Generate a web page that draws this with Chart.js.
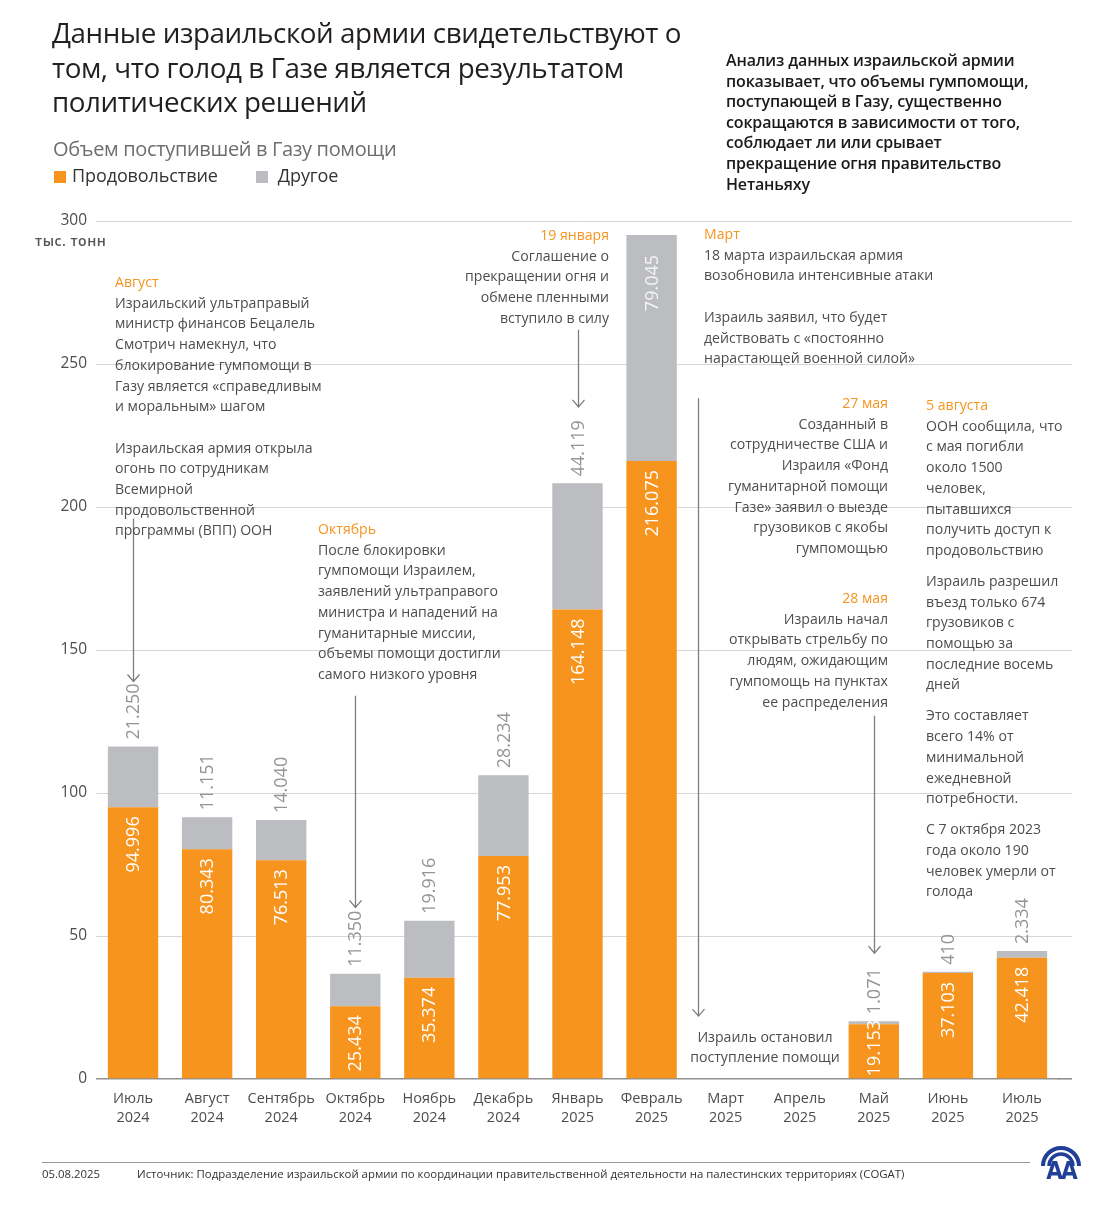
<!DOCTYPE html>
<html lang="ru">
<head>
<meta charset="utf-8">
<title>Объем поступившей в Газу помощи</title>
<script src="https://cdn.jsdelivr.net/npm/chart.js@4.4.1/dist/chart.umd.min.js"></script>
<style>
  html, body { margin: 0; padding: 0; background: #fff; }
  body { width: 1120px; height: 1210px; position: relative; overflow: hidden;
         font-family: "Open Sans", "Noto Sans", sans-serif; color: #4d4d4d; }
  #chartBox { position: absolute; left: 0; top: 0; width: 1120px; height: 1210px; }
  .abs { position: absolute; white-space: pre; }
  .title { left: 52px; top: 15px; font-size: 27.8px; line-height: 34.5px; color: #231f20; letter-spacing: -0.45px; }
  .sub { left: 53px; top: 135px; font-size: 20px; line-height: 28px; color: #6d6e71; letter-spacing: -0.35px; }
  .legend { left: 54px; top: 162px; font-size: 18px; line-height: 26px; color: #333; letter-spacing: -0.1px; }
  .legend span.sq { display: inline-block; width: 12px; height: 12px; margin-right: 6px; vertical-align: -0.5px; }
  .intro { left: 726px; top: 50px; font-size: 16px; line-height: 20.6px; font-weight: 600; color: #1a1a1a; letter-spacing: -0.15px; }
  .unit { left: 35px; top: 231px; font-size: 14px; font-weight: 600; color: #555; letter-spacing: 0.5px; }
  .note { font-size: 14.1px; line-height: 20.7px; color: #4d4d4d; }
  .note .h { color: #f7941d; }
  .note p { margin: 0; }
  .note p + p { margin-top: 10.3px; }
  .r { text-align: right; }
  .c { text-align: center; }
  .foot { top: 1166px; font-size: 11.4px; line-height: 16px; color: #333; }
  #rule { position: absolute; left: 42px; top: 1162px; width: 988px; height: 1px; background: #9a9a9a; }
  #logo { position: absolute; left: 1038px; top: 1136px; }
</style>
</head>
<body>
<div id="chartBox"><canvas id="aidChart"></canvas></div>

<div class="abs title">Данные израильской армии свидетельствуют о
том, что голод в Газе является результатом
политических решений</div>
<div class="abs sub">Объем поступившей в Газу помощи</div>
<div class="abs legend"><span class="sq" style="background:#f7941d"></span>Продовольствие<span style="display:inline-block;width:38px"></span><span class="sq" style="background:#bcbdc0;margin-right:10px"></span>Другое</div>
<div class="abs intro">Анализ данных израильской армии
показывает, что объемы гумпомощи,
поступающей в Газу, существенно
сокращаются в зависимости от того,
соблюдает ли или срывает
прекращение огня правительство
Нетаньяху</div>
<div class="abs unit">тыс. тонн</div>

<div class="abs note" style="left:115px;top:272px"><span class="h">Август</span>
Израильский ультраправый
министр финансов Бецалель
Смотрич намекнул, что
блокирование гумпомощи в
Газу является «справедливым
и моральным» шагом

Израильская армия открыла
огонь по сотрудникам
Всемирной
продовольственной
программы (ВПП) ООН</div>

<div class="abs note" style="left:318px;top:519px"><span class="h">Октябрь</span>
После блокировки
гумпомощи Израилем,
заявлений ультраправого
министра и нападений на
гуманитарные миссии,
объемы помощи достигли
самого низкого уровня</div>

<div class="abs note r" style="right:511px;top:225px"><span class="h">19 января</span>
Соглашение о
прекращении огня и
обмене пленными
вступило в силу</div>

<div class="abs note" style="left:704px;top:224px"><span class="h">Март</span>
18 марта израильская армия
возобновила интенсивные атаки

Израиль заявил, что будет
действовать с «постоянно
нарастающей военной силой»</div>

<div class="abs note r" style="right:232px;top:393px"><span class="h">27 мая</span>
Созданный в
сотрудничестве США и
Израиля «Фонд
гуманитарной помощи
Газе» заявил о выезде
грузовиков с якобы
гумпомощью</div>

<div class="abs note r" style="right:232px;top:588px"><span class="h">28 мая</span>
Израиль начал
открывать стрельбу по
людям, ожидающим
гумпомощь на пунктах
ее распределения</div>

<div class="abs note" style="left:926px;top:395px"><p><span class="h">5 августа</span>
ООН сообщила, что
с мая погибли
около 1500
человек,
пытавшихся
получить доступ к
продовольствию</p><p>Израиль разрешил
въезд только 674
грузовиков с
помощью за
последние восемь
дней</p><p>Это составляет
всего 14% от
минимальной
ежедневной
потребности.</p><p>С 7 октября 2023
года около 190
человек умерли от
голода</p></div>

<div class="abs note c" style="left:665px;width:200px;top:1027px;line-height:19.5px">Израиль остановил
поступление помощи</div>

<div id="rule"></div>
<div class="abs foot" style="left:42px">05.08.2025</div>
<div class="abs foot" style="left:137px">Источник: Подразделение израильской армии по координации правительственной деятельности на палестинских территориях (COGAT)</div>
<svg id="logo" width="46" height="46" viewBox="0 0 46 46">
  <path d="M5 30 A18 18 0 0 1 41 30" fill="none" stroke="#1f3f99" stroke-width="4"/>
  <path d="M11 30 A12 12 0 0 1 35 30" fill="none" stroke="#1f3f99" stroke-width="3.5"/>
  <text x="23" y="43" text-anchor="middle" font-family="DejaVu Sans Condensed, DejaVu Sans, sans-serif" font-weight="bold" font-size="24" fill="#1f3f99" letter-spacing="-2">AA</text>
</svg>

<script>
// months on the x axis
const months = [
  ["Июль", "2024"], ["Август", "2024"], ["Сентябрь", "2024"], ["Октябрь", "2024"],
  ["Ноябрь", "2024"], ["Декабрь", "2024"], ["Январь", "2025"], ["Февраль", "2025"],
  ["Март", "2025"], ["Апрель", "2025"], ["Май", "2025"], ["Июнь", "2025"], ["Июль", "2025"]
];
// tonnes
const food  = [94996, 80343, 76513, 25434, 35374, 77953, 164148, 216075, 0, 0, 19153, 37103, 42418];
const other = [21250, 11151, 14040, 11350, 19916, 28234, 44119, 79045, 0, 0, 1071, 410, 2334];
const yTicks = [0, 50, 100, 150, 200, 250, 300]; // thousand tonnes

// arrows: category position and thousand-tonne range
const arrows = [
  { at: 0,    from: 196, to: 139 },
  { at: 3,    from: 134, to: 60 },
  { at: 6,    from: 262, to: 235 },
  { at: 7.63, from: 238, to: 22 },
  { at: 10,   from: 127, to: 44 }
];

const ORANGE = "#f7941d";
const GRAY = "#bcbdc0";
const fmt = v => v.toLocaleString("de-DE");

const labelPlugin = {
  id: "barLabels",
  afterDatasetsDraw(chart) {
    const ctx = chart.ctx;
    const top = chart.chartArea.top;
    ctx.save();
    ctx.font = '18px "Open Sans", sans-serif';
    ctx.textBaseline = "middle";
    chart.getDatasetMeta(0).data.forEach((el, i) => {
      if (!food[i]) return;
      const txt = fmt(food[i]);
      const w = ctx.measureText(txt).width;
      ctx.save();
      ctx.fillStyle = "#fff";
      if (el.base - el.y > w + 14) {
        ctx.translate(el.x, el.y + 9);
        ctx.rotate(-Math.PI / 2);
        ctx.textAlign = "right";
      } else {
        ctx.translate(el.x, el.base - 2);
        ctx.rotate(-Math.PI / 2);
        ctx.textAlign = "left";
      }
      ctx.fillText(txt, 0, 1);
      ctx.restore();
    });
    chart.getDatasetMeta(1).data.forEach((el, i) => {
      if (!other[i]) return;
      const txt = fmt(other[i]);
      const w = ctx.measureText(txt).width;
      ctx.save();
      if (el.y - w - 8 < top) {
        ctx.fillStyle = "#f4f4f4";
        ctx.translate(el.x, el.y + 20);
        ctx.rotate(-Math.PI / 2);
        ctx.textAlign = "right";
      } else {
        ctx.fillStyle = "#939598";
        ctx.translate(el.x, el.y - 7);
        ctx.rotate(-Math.PI / 2);
        ctx.textAlign = "left";
      }
      ctx.fillText(txt, 0, 1);
      ctx.restore();
    });
    ctx.restore();
  }
};

// gridlines in the original run a little past the last bar
const gridTail = {
  id: "gridTail",
  beforeDatasetsDraw(chart) {
    const ctx = chart.ctx, ys = chart.scales.y, r = chart.chartArea.right;
    const dpr = chart.currentDevicePixelRatio;
    ctx.save();
    ys.ticks.forEach(t => {
      const lw = t.value === 0 ? 1.6 : 1;
      const half = lw / 2;
      const y = Math.round((ys.getPixelForValue(t.value) - half) * dpr) / dpr + half;
      ctx.strokeStyle = t.value === 0 ? "#8f8f8f" : "#d6d6d6";
      ctx.lineWidth = lw;
      ctx.beginPath();
      ctx.moveTo(r - 1, y);
      ctx.lineTo(r + 13, y);
      ctx.stroke();
    });
    ctx.restore();
  }
};

const arrowPlugin = {
  id: "arrows",
  afterDraw(chart) {
    const ctx = chart.ctx;
    const xs = chart.scales.x, ys = chart.scales.y;
    ctx.save();
    ctx.strokeStyle = "#7d7d7d";
    ctx.lineWidth = 1.3;
    arrows.forEach(a => {
      const x = Math.round(xs.getPixelForValue(a.at)) + 0.5;
      const y1 = ys.getPixelForValue(a.from * 1000);
      const y2 = ys.getPixelForValue(a.to * 1000);
      ctx.beginPath();
      ctx.moveTo(x, y1);
      ctx.lineTo(x, y2);
      ctx.moveTo(x - 6, y2 - 7);
      ctx.lineTo(x, y2);
      ctx.lineTo(x + 6, y2 - 7);
      ctx.stroke();
    });
    ctx.restore();
  }
};

new Chart(document.getElementById("aidChart"), {
  type: "bar",
  data: {
    labels: months,
    datasets: [
      { label: "Продовольствие", data: food, backgroundColor: ORANGE },
      { label: "Другое", data: other, backgroundColor: GRAY }
    ]
  },
  options: {
    responsive: true,
    maintainAspectRatio: false,
    animation: false,
    datasets: { bar: { barPercentage: 0.68, categoryPercentage: 1 } },
    layout: { padding: { left: 36, right: 61, top: 221, bottom: 81 } },
    plugins: { legend: { display: false }, tooltip: { enabled: false } },
    scales: {
      x: {
        stacked: true,
        grid: { display: false, drawTicks: false },
        border: { display: false },
        ticks: {
          color: "#4d4d4d",
          padding: 10,
          maxRotation: 0,
          font: { family: '"Open Sans", sans-serif', size: 14.5, lineHeight: 1.32 }
        },
        afterFit: s => { s.height = 50; }
      },
      y: {
        stacked: true,
        min: 0,
        max: 300000,
        afterBuildTicks: s => { s.ticks = yTicks.map(v => ({ value: v * 1000 })); },
        grid: {
          drawTicks: false,
          color: c => c.tick && c.tick.value === 0 ? "#8f8f8f" : "#d6d6d6",
          lineWidth: c => c.tick && c.tick.value === 0 ? 1.6 : 1
        },
        border: { display: false },
        ticks: {
          color: "#4d4d4d",
          padding: 9,
          font: { family: '"Open Sans", sans-serif', size: 15.5 },
          callback: v => v / 1000
        },
        afterFit: s => { s.width = 60; }
      }
    }
  },
  plugins: [labelPlugin, gridTail, arrowPlugin]
});
</script>
</body>
</html>
